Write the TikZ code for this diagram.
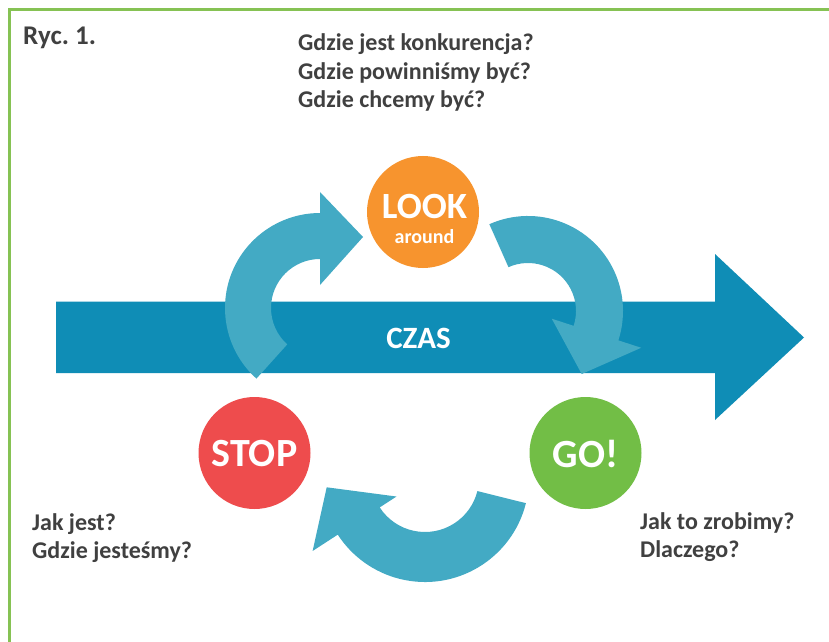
\documentclass[tikz,border=0pt]{standalone}
\usepackage{fontspec}
\setmainfont{Carlito}
\usetikzlibrary{calc}
\frenchspacing
\definecolor{txt}{RGB}{64,64,64}
\definecolor{shaftc}{RGB}{15,141,182}
\definecolor{curvc}{RGB}{67,170,196}
\definecolor{lookc}{RGB}{247,148,46}
\definecolor{stopc}{RGB}{238,76,77}
\definecolor{goc}{RGB}{114,190,70}
\definecolor{framec}{RGB}{134,194,84}
\newcommand{\cyclearrow}[8]{%
  \fill[cyc] ($(#1)+(#4:#2)$) arc[start angle=#4, end angle=#5, radius=#2]
    -- ($(#1)+(#5:#6)$) -- (#8) -- ($(#1)+(#5:#7)$) -- ($(#1)+(#5:#3)$)
    arc[start angle=#5, end angle=#4, radius=#3] -- cycle;}
\begin{document}
\begin{tikzpicture}[x=1pt,y=1pt,
  lbl/.style={text=txt, font=\bfseries\fontsize{24}{27}\selectfont, inner sep=0, anchor=base west},
  disc/.style={circle, inner sep=0, minimum size=112pt},
  cyc/.style={fill=curvc},
  big/.style={text=white, font=\bfseries\fontsize{40}{42}\selectfont, inner sep=0}]
\useasboundingbox (0,0) rectangle (829,641);
\fill[white] (0,0) rectangle (829,641);
\draw[framec, line width=3pt] (9,-2) -- (9,631.5) -- (832,631.5);
% texts
\node[lbl, font=\bfseries\fontsize{27}{30}\selectfont] (ryc) at (23,596) {Ryc. 1.};
\node[lbl] (q1) at (298,590) {Gdzie jest konkurencja?};
\node[lbl] (q2) at (298,561.5) {Gdzie powinniśmy być?};
\node[lbl] (q3) at (298,533) {Gdzie chcemy być?};
\node[lbl] (s1) at (32,111) {Jak jest?};
\node[lbl] (s2) at (32,83) {Gdzie jesteśmy?};
\node[lbl] (g1) at (640,112) {Jak to zrobimy?};
\node[lbl] (g2) at (640,84) {Dlaczego?};
% time arrow
\fill[shaftc] (56,268) -- (715,268) -- (715,221) -- (804,303.5) -- (715,387) -- (715,339.3) -- (56,339.3) -- cycle;
\node[text=white, font=\bfseries\fontsize{31}{32}\selectfont, inner sep=0] (czas) at (418.5,303) {CZAS};
% cycle arrows
\coordinate (cL) at (320,333);
\coordinate (tL) at (363,404);
\coordinate (cR) at (528,330);
\coordinate (tR) at (581.7,267);
\coordinate (cB) at (425,163);
\coordinate (tB) at (326.7,153.7);
\cyclearrow{cL}{95}{49}{228}{90}{116}{23}{tL}
\cyclearrow{cR}{95}{48}{114}{-18}{119}{25}{tR}
\cyclearrow{cB}{104}{54}{-14}{-147}{134}{34}{tB}
% circles
\node[disc, fill=lookc] (look) at (423,429) {};
\node[text=white, inner sep=0, align=center, anchor=south,
      font=\bfseries\fontsize{20}{22.5}\selectfont] (lookt) at (424.5,397)
      {{\fontsize{37}{40}\selectfont LOOK}\\[3pt]around};
\node[disc, fill=stopc] (stop) at (254.5,188) {};
\node[big] (stopt) at (254.5,187) {STOP};
\node[disc, fill=goc] (go) at (585.5,188) {};
\node[big] (got) at (585.5,187) {GO!};
\end{tikzpicture}
\end{document}
